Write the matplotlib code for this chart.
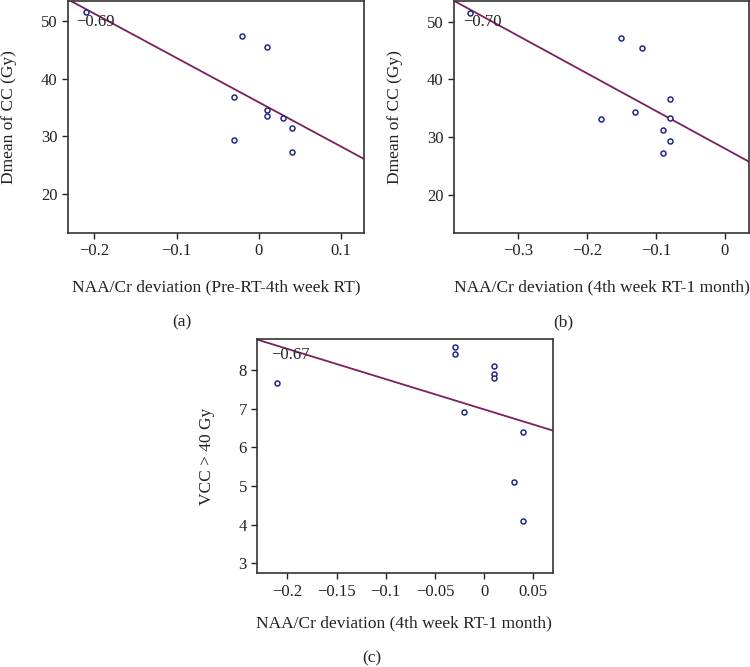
import numpy as np
import matplotlib
matplotlib.use("Agg")
import matplotlib.pyplot as plt

plt.rcParams['font.family'] = ['Liberation Serif', 'DejaVu Serif']
plt.rcParams['font.size'] = 12

# Panel (a)
xa = [-0.21, -0.02, 0.01, -0.03, 0.01, 0.01, 0.03, 0.04, -0.03, 0.04]
ya = [51.5, 47.3, 45.5, 36.8, 34.5, 33.6, 33.2, 31.4, 29.4, 27.3]
ra = "\u22120.69"
# Panel (b)
xb = [-0.37, -0.15, -0.12, -0.08, -0.08, -0.13, -0.18, -0.09, -0.08, -0.09]
yb = [51.5, 47.2, 45.4, 36.7, 33.4, 34.4, 33.2, 31.3, 29.3, 27.2]
rb = "\u22120.70"
# Panel (c)
xc = [-0.21, -0.03, -0.03, 0.01, 0.01, 0.01, -0.02, 0.04, 0.03, 0.04]
yc = [7.65, 8.6, 8.4, 8.1, 7.9, 7.8, 6.9, 6.4, 5.1, 4.1]
rc = "\u22120.67"

ylab_ab = "Dmean of CC (Gy)"
ylab_c = "VCC > 40 Gy"
xlab_a = "NAA/Cr deviation (Pre-RT-4th week RT)"
xlab_b = "NAA/Cr deviation (4th week RT-1 month)"
xlab_c = "NAA/Cr deviation (4th week RT-1 month)"

W, H = 750, 667
fig = plt.figure(figsize=(W/100, H/100), dpi=100)

line_col = "#7b1f5e"
pt_col = "#1f2a80"

def panel(rect, x, y, xlim, ylim, xticks, yticks, xtl, r, rpos):
    ax = fig.add_axes(rect)
    ax.set_xlim(*xlim)
    ax.set_ylim(*ylim)
    slope, icpt = np.polyfit(x, y, 1)
    xs = np.array(xlim)
    ax.plot(xs, slope*xs + icpt, color=line_col, lw=1.3, zorder=2)
    ax.plot(x, y, 'o', ms=3.6, mfc='white', mec=pt_col, mew=1.1, zorder=3, clip_on=False)
    ax.set_xticks(xticks)
    ax.set_xticklabels(xtl)
    ax.set_yticks(yticks)
    ax.set_yticklabels([str(v) for v in yticks])
    ax.tick_params(direction='out', length=4, width=1, colors='#222222', labelcolor='#222222', labelsize=12)
    for s in ax.spines.values():
        s.set_color('#333333')
        s.set_linewidth(1.2)
    ax.text(rpos[0], rpos[1], r, fontsize=12, color='#222222', va='center', ha='left', zorder=4)
    return ax

def fmt(v):
    if abs(v) < 1e-12:
        return "0"
    s = ("%g" % v)
    return s.replace("-", "\u2212")

ta = [-0.2, -0.1, 0, 0.1]
axa = panel([68/W, 1-233/H, 296/W, 232/H], xa, ya, (-0.232, 0.128), (13.3, 53.4),
            ta, [20, 30, 40, 50], [fmt(v) for v in ta], ra, (-0.222, 49.7))
tb = [-0.3, -0.2, -0.1, 0]
axb = panel([454/W, 1-233/H, 295/W, 232/H], xb, yb, (-0.393, 0.035), (13.4, 53.6),
            tb, [20, 30, 40, 50], [fmt(v) for v in tb], rb, (-0.380, 50.0))
tc = [-0.2, -0.15, -0.1, -0.05, 0, 0.05]
axc = panel([257.3/W, 1-573.3/H, 295.4/W, 234/H], xc, yc, (-0.2305, 0.0697), (2.74, 8.79),
            tc, [3, 4, 5, 6, 7, 8], [fmt(v) for v in tc], rc, (-0.216, 8.39))

tc_ = '#222222'
fig.text(9/W, 1-117/H, ylab_ab, rotation=90, ha='center', va='center', fontsize=12.5, color=tc_)
fig.text((375+20)/W, 1-117/H, ylab_ab, rotation=90, ha='center', va='center', fontsize=12.5, color=tc_)
fig.text(206.7/W, 1-456/H, ylab_c, rotation=90, ha='center', va='center', fontsize=12.5, color=tc_)
fig.text(216/W, 1-287/H, xlab_a, ha='center', va='center', fontsize=12.5, color=tc_)
fig.text((375+227)/W, 1-287/H, xlab_b, ha='center', va='center', fontsize=12.5, color=tc_)
fig.text(404/W, 1-623/H, xlab_c, ha='center', va='center', fontsize=12.5, color=tc_)
fig.text(182/W, 1-322/H, "(a)", ha='center', va='center', fontsize=12.5, color=tc_)
fig.text(563/W, 1-322/H, "(b)", ha='center', va='center', fontsize=12.5, color=tc_)
fig.text(372/W, 1-658/H, "(c)", ha='center', va='center', fontsize=12.5, color=tc_)

fig.savefig("out.png", dpi=100)
